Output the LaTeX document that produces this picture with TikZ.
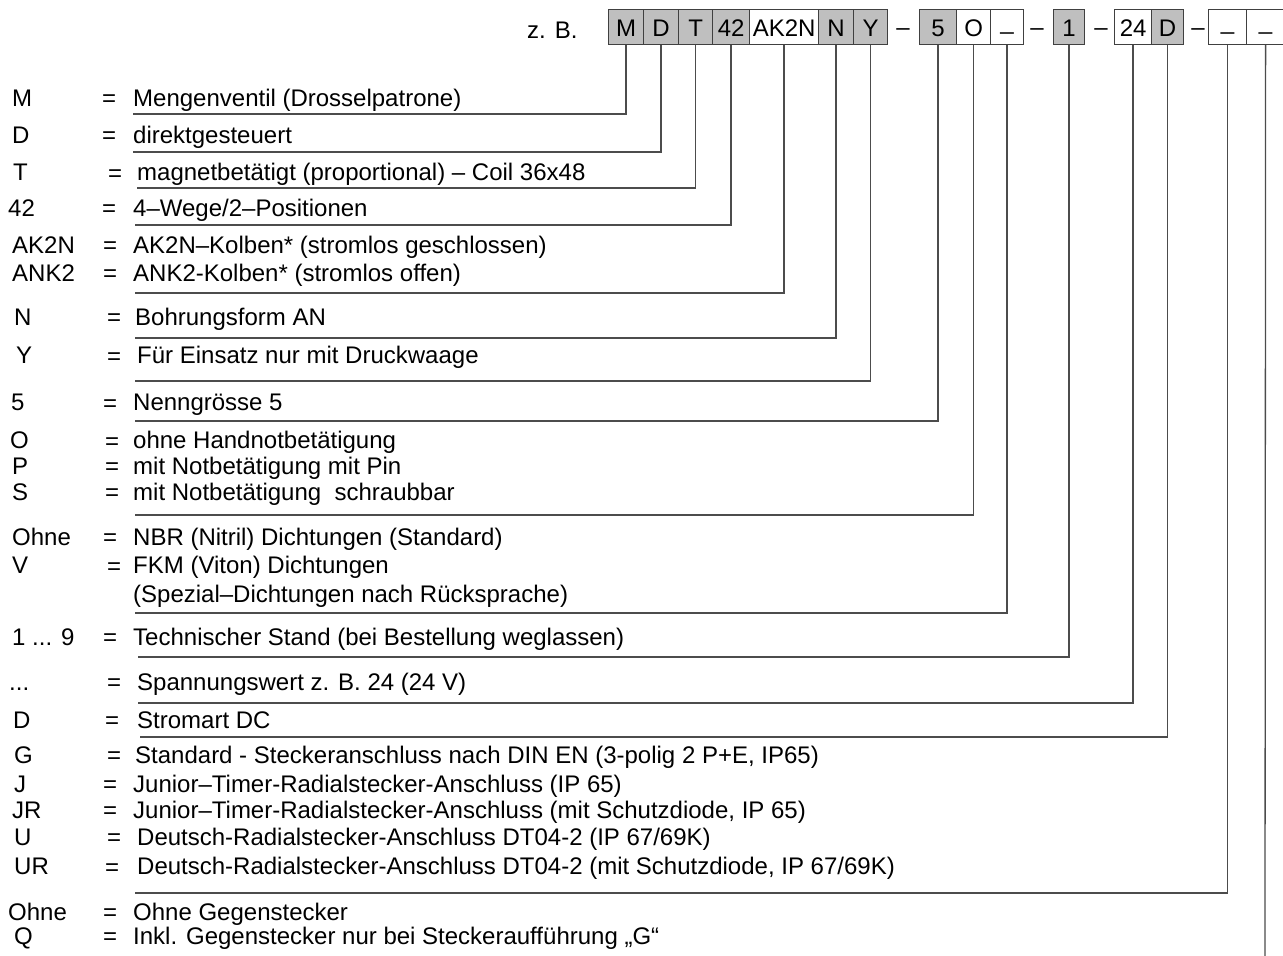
\documentclass[tikz,border=0pt]{standalone}
\usepackage{fontspec}
\setmainfont{Liberation Sans}
\usetikzlibrary{positioning,calc}

\begin{document}
\begin{tikzpicture}[x=1pt, y=-1pt,
    every node/.style={font=\fontsize{24}{28}\selectfont},
    txt/.style={anchor=base west, inner sep=0pt},
    feld/.style={anchor=north west, draw=black!75, line width=1.2pt, minimum height=35pt, text height=19pt, text depth=0pt, inner sep=0pt},
    grau/.style={feld, fill=black!25},
    weiss/.style={feld, fill=white},
    leitung/.style={draw=black!70, line width=1.3pt}]
\useasboundingbox (0,0) rectangle (1283,956);

% Typenschluessel oben
\node[txt] (zb) at (527,38) {z. B.};
\node[grau, minimum width=35pt] (bM) at (608,9) {M};
\node[grau, minimum width=35pt] (bD) at (643,9) {D};
\node[grau, minimum width=34pt] (bT) at (678,9) {T};
\node[grau, minimum width=37pt] (b42) at (712,9) {42};
\node[weiss, minimum width=69pt] (bAK) at (749,9) {AK2N};
\node[grau, minimum width=35pt] (bN) at (818,9) {N};
\node[grau, minimum width=34pt] (bY) at (853,9) {Y};
\node[anchor=base, inner sep=0pt] (s1) at (903,35) {–};
\node[grau, minimum width=37pt] (b5) at (919,9) {5};
\node[weiss, minimum width=34pt] (bO) at (956,9) {O};
\node[weiss, minimum width=33pt] (bX) at (990,9) {\raisebox{7pt}{\_}};
\node[anchor=base, inner sep=0pt] (s2) at (1037,35) {–};
\node[grau, minimum width=31pt] (b1) at (1053,9) {1};
\node[anchor=base, inner sep=0pt] (s3) at (1101,35) {–};
\node[weiss, minimum width=37pt] (b24) at (1114,9) {24};
\node[grau, minimum width=32pt] (bD2) at (1151,9) {D};
\node[anchor=base, inner sep=0pt] (s4) at (1198,35) {–};
\node[weiss, minimum width=38pt] (bL1) at (1208,9) {\raisebox{7pt}{\_}};
\node[weiss, minimum width=38pt] (bL2) at (1246,9) {\raisebox{7pt}{\_}};

% Legende links
\node[txt] (cM) at (12,106) {M};
\node[txt] (qM) at (102,106) {=};
\node[txt] (tM) at (133,106) {Mengenventil (Drosselpatrone)};

\node[txt] (cD) at (12,143) {D};
\node[txt] (qD) at (102,143) {=};
\node[txt] (tD) at (133,143) {direktgesteuert};

\node[txt] (cT) at (13,180) {T};
\node[txt] (qT) at (108,181) {=};
\node[txt] (tT) at (137,180) {magnetbetätigt (proportional) – Coil 36x48};

\node[txt] (cvw) at (8,216) {42};
\node[txt] (qvw) at (102,216) {=};
\node[txt] (tvw) at (133,216) {4–Wege/2–Positionen};

\node[txt] (cak) at (12,253) {AK2N};
\node[txt] (qak) at (103,253) {=};
\node[txt] (tak) at (133,253) {AK2N–Kolben* (stromlos geschlossen)};

\node[txt] (cank) at (12,281) {ANK2};
\node[txt] (qank) at (103,281) {=};
\node[txt] (tank) at (133,281) {ANK2-Kolben* (stromlos offen)};

\node[txt] (cN) at (14,325) {N};
\node[txt] (qN) at (107,325) {=};
\node[txt] (tN) at (135,325) {Bohrungsform AN};

\node[txt] (cY) at (16,363) {Y};
\node[txt] (qY) at (107,364) {=};
\node[txt] (tY) at (137,363) {Für Einsatz nur mit Druckwaage};

\node[txt] (cng) at (11,410) {5};
\node[txt] (qng) at (103,411) {=};
\node[txt] (tng) at (133,410) {Nenngrösse 5};

\node[txt] (cO) at (10,448) {O};
\node[txt] (qO) at (105,449) {=};
\node[txt] (tO) at (133,448) {ohne Handnotbetätigung};

\node[txt] (cP) at (12,474) {P};
\node[txt] (qP) at (105,474) {=};
\node[txt] (tP) at (133,474) {mit Notbetätigung mit Pin};

\node[txt] (cS) at (12,500) {S};
\node[txt] (qS) at (105,500) {=};
\node[txt] (tS) at (133,500) {mit Notbetätigung\ \ schraubbar};

\node[txt] (coh1) at (12,545) {Ohne};
\node[txt] (qoh1) at (103,545) {=};
\node[txt] (toh1) at (133,545) {NBR (Nitril) Dichtungen (Standard)};

\node[txt] (cV) at (12,573) {V};
\node[txt] (qV) at (107,574) {=};
\node[txt] (tV) at (133,573) {FKM (Viton) Dichtungen};
\node[txt] (tspez) at (133,602) {(Spezial–Dichtungen nach Rücksprache)};

\node[txt] (cts) at (12,645) {1 ... 9};
\node[txt] (qts) at (103,645) {=};
\node[txt] (tts) at (133,645) {Technischer Stand (bei Bestellung weglassen)};

\node[txt] (csp) at (9,690) {...};
\node[txt] (qsp) at (107,690) {=};
\node[txt] (tsp) at (137,690) {Spannungswert z. B. 24 (24 V)};

\node[txt] (cD3) at (13,728) {D};
\node[txt] (qD3) at (105,728) {=};
\node[txt] (tD3) at (137,728) {Stromart DC};

\node[txt] (cG) at (14,763) {G};
\node[txt] (qG) at (107,763) {=};
\node[txt] (tG) at (135,763) {Standard - Steckeranschluss nach DIN EN (3-polig 2 P+E, IP65)};

\node[txt] (cJ) at (14,792) {J};
\node[txt] (qJ) at (103,792) {=};
\node[txt] (tJ) at (133,792) {Junior–Timer-Radialstecker-Anschluss (IP 65)};

\node[txt] (cJR) at (12,818) {JR};
\node[txt] (qJR) at (103,818) {=};
\node[txt] (tJR) at (133,818) {Junior–Timer-Radialstecker-Anschluss (mit Schutzdiode, IP 65)};

\node[txt] (cU) at (14,845) {U};
\node[txt] (qU) at (107,845) {=};
\node[txt] (tU) at (137,845) {Deutsch-Radialstecker-Anschluss DT04-2 (IP 67/69K)};

\node[txt] (cUR) at (14,874) {UR};
\node[txt] (qUR) at (105,875) {=};
\node[txt] (tUR) at (137,874) {Deutsch-Radialstecker-Anschluss DT04-2 (mit Schutzdiode, IP 67/69K)};

\node[txt] (coh2) at (8,920) {Ohne};
\node[txt] (qoh2) at (103,920) {=};
\node[txt] (toh2) at (133,920) {Ohne Gegenstecker};

\node[txt] (cQ) at (14,944) {Q};
\node[txt] (qQ) at (103,944) {=};
\node[txt] (tQ) at (133,944) {Inkl. Gegenstecker nur bei Steckeraufführung „G“};

% Enden der Leitungen
\coordinate (lM) at (133,114);
\coordinate (lD) at (133,152);
\coordinate (lT) at (137,188);
\coordinate (lvw) at (135,225);
\coordinate (lak) at (135,293);
\coordinate (lN) at (135,338);
\coordinate (lY) at (135,381);
\coordinate (lng) at (135,421);
\coordinate (lO) at (135,515);
\coordinate (lV) at (135,613);
\coordinate (lts) at (138,657);
\coordinate (lsp) at (138,703);
\coordinate (lD3) at (140,737);
\coordinate (lG) at (135,893);
\coordinate (lend) at (1265,956);

% Leitungen
\draw[leitung] (bM.south) |- (lM);
\draw[leitung] (bD.south) |- (lD);
\draw[leitung] (bT.south) |- (lT);
\draw[leitung] (b42.south) |- (lvw);
\draw[leitung] (bAK.south) |- (lak);
\draw[leitung] (bN.south) |- (lN);
\draw[leitung] (bY.south) |- (lY);
\draw[leitung] (b5.south) |- (lng);
\draw[leitung] (bO.south) |- (lO);
\draw[leitung] (bX.south) |- (lV);
\draw[leitung] (b1.south) |- (lts);
\draw[leitung] (b24.south) |- (lsp);
\draw[leitung] (bD2.south) |- (lD3);
\draw[leitung] (bL1.south) |- (lG);
\draw[leitung] (bL2.south) -- (lend);
\end{tikzpicture}
\end{document}
